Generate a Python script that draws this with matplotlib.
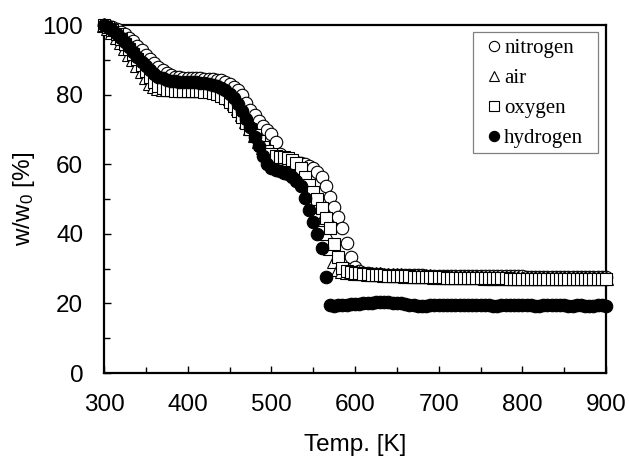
import numpy as np
import matplotlib
matplotlib.use("Agg")
import matplotlib.pyplot as plt
from matplotlib.ticker import MultipleLocator
from matplotlib.patches import Rectangle

# ---------------- data ----------------
temp = np.arange(300, 901, 5)

nitrogen = [
    100.0, 99.8, 99.4, 98.8, 98.1, 97.3, 96.4, 95.3, 94.1, 92.8,
    91.5, 90.2, 89.0, 87.9, 87.0, 86.2, 85.6, 85.2, 85.0, 84.9,
    84.8, 84.8, 84.7, 84.7, 84.6, 84.5, 84.4, 84.3, 84.1, 83.7,
    83.1, 82.3, 81.2, 79.8, 77.6, 75.6, 74.0, 72.5, 71.1, 69.9,
    68.8, 66.5, 62.8, 61.9, 61.4, 61.0, 60.7, 60.4, 60.0, 59.5,
    58.8, 57.9, 56.3, 53.6, 50.6, 47.8, 44.9, 41.6, 37.4, 33.2,
    30.4, 29.3, 28.8, 28.6, 28.5, 28.4, 28.4, 28.3, 28.3, 28.3,
    28.2, 28.2, 28.2, 28.1, 28.1, 28.1, 28.1, 28.0, 28.0, 28.0,
    28.0, 28.0, 27.9, 27.9, 27.9, 27.9, 27.9, 27.9, 27.9, 27.8,
    27.8, 27.8, 27.8, 27.8, 27.8, 27.8, 27.8, 27.8, 27.8, 27.8,
    27.8, 27.7, 27.7, 27.7, 27.7, 27.7, 27.7, 27.7, 27.7, 27.7,
    27.7, 27.7, 27.7, 27.7, 27.7, 27.7, 27.7, 27.7, 27.7, 27.7,
    27.7,
]

air = [
    100.0, 99.2, 98.0, 96.6, 95.0, 93.4, 91.8, 90.2, 88.6, 86.8,
    85.0, 83.4, 82.4, 81.9, 81.7, 81.6, 81.5, 81.5, 81.5, 81.4,
    81.4, 81.4, 81.4, 81.3, 81.3, 81.2, 81.1, 80.9, 80.5, 79.8,
    78.9, 77.6, 76.1, 74.4, 72.5, 70.5, 68.5, 66.6, 64.9, 63.5,
    62.6, 62.3, 62.1, 61.9, 61.6, 61.1, 60.3, 59.1, 57.3, 54.6,
    51.5, 48.0, 44.2, 40.2, 36.0, 32.2, 29.9, 29.3, 29.1, 28.9,
    28.8, 28.7, 28.6, 28.5, 28.4, 28.4, 28.4, 28.3, 28.2, 28.2,
    28.1, 28.1, 28.0, 28.0, 27.9, 27.9, 27.8, 27.8, 27.8, 27.7,
    27.7, 27.7, 27.6, 27.6, 27.6, 27.6, 27.5, 27.5, 27.5, 27.5,
    27.5, 27.4, 27.4, 27.4, 27.4, 27.4, 27.4, 27.3, 27.3, 27.3,
    27.3, 27.3, 27.3, 27.3, 27.3, 27.2, 27.2, 27.2, 27.2, 27.2,
    27.2, 27.2, 27.2, 27.2, 27.2, 27.2, 27.2, 27.2, 27.2, 27.2,
    27.2,
]

oxygen = [
    100.0, 99.4, 98.5, 97.3, 96.0, 94.6, 93.2, 91.7, 90.1, 88.5,
    86.8, 85.1, 83.6, 82.5, 81.8, 81.4, 81.2, 81.1, 81.1, 81.0,
    81.0, 81.0, 80.9, 80.9, 80.8, 80.7, 80.5, 80.2, 79.7, 79.0,
    78.0, 76.7, 75.2, 73.6, 71.9, 70.1, 68.3, 66.6, 65.0, 63.7,
    62.8, 62.4, 62.2, 62.0, 61.7, 61.2, 60.3, 58.9, 56.4, 54.0,
    52.0, 50.1, 47.4, 44.6, 41.6, 37.1, 33.3, 30.3, 29.4, 29.0,
    28.8, 28.6, 28.5, 28.4, 28.3, 28.2, 28.2, 28.1, 28.0, 28.0,
    27.9, 27.9, 27.8, 27.8, 27.7, 27.7, 27.6, 27.6, 27.6, 27.5,
    27.5, 27.5, 27.4, 27.4, 27.4, 27.4, 27.3, 27.3, 27.3, 27.3,
    27.3, 27.2, 27.2, 27.2, 27.2, 27.2, 27.2, 27.1, 27.1, 27.1,
    27.1, 27.1, 27.1, 27.1, 27.1, 27.0, 27.0, 27.0, 27.0, 27.0,
    27.0, 27.0, 27.0, 27.0, 27.0, 27.0, 27.0, 27.0, 27.0, 27.0,
    27.0,
]

hydrogen = [
    100.0, 99.5, 98.6, 97.5, 96.3, 95.0, 93.7, 92.3, 90.9, 89.5,
    88.2, 87.0, 86.0, 85.2, 84.7, 84.3, 84.0, 83.8, 83.7, 83.6,
    83.6, 83.5, 83.5, 83.4, 83.3, 83.1, 82.8, 82.4, 81.9, 81.2,
    80.2, 78.9, 77.3, 75.4, 73.1, 70.6, 67.9, 65.1, 62.4, 60.2,
    59.0, 58.4, 58.0, 57.6, 57.1, 56.4, 55.3, 53.6, 50.2, 46.8,
    43.3, 40.0, 36.0, 27.5, 19.5, 19.3, 19.4, 19.5, 19.6, 19.7,
    19.8, 19.9, 20.0, 20.1, 20.2, 20.3, 20.4, 20.4, 20.3, 20.2,
    20.1, 20.0, 19.8, 19.6, 19.4, 19.3, 19.2, 19.3, 19.4, 19.5,
    19.6, 19.6, 19.5, 19.5, 19.4, 19.4, 19.5, 19.5, 19.6, 19.6,
    19.5, 19.4, 19.4, 19.3, 19.3, 19.4, 19.5, 19.5, 19.4, 19.4,
    19.5, 19.5, 19.4, 19.3, 19.3, 19.4, 19.4, 19.5, 19.5, 19.4,
    19.4, 19.3, 19.3, 19.4, 19.4, 19.3, 19.3, 19.3, 19.4, 19.4,
    19.3,
]

series_labels = ["nitrogen", "air", "oxygen", "hydrogen"]
x_ticks = [300, 400, 500, 600, 700, 800, 900]
y_ticks = [0, 20, 40, 60, 80, 100]

# ---------------- style ----------------
plt.rcParams["font.family"] = ["Liberation Sans", "DejaVu Sans"]
plt.rcParams["mathtext.fontset"] = "custom"
plt.rcParams["mathtext.rm"] = "Liberation Sans"
plt.rcParams["mathtext.it"] = "Liberation Sans"
plt.rcParams["mathtext.default"] = "regular"

fig = plt.figure(figsize=(6.29, 4.59), dpi=100)
ax = fig.add_axes([104 / 629, 1 - 373 / 459, 502 / 629, 348 / 459])

ms = 9.0
mew = 0.8
common = dict(linestyle="none", mec="black", mew=mew, clip_on=False)
h_n, = ax.plot(temp, nitrogen, marker="o", ms=ms, mfc="white",
               label=series_labels[0], **common)
h_a, = ax.plot(temp, air, marker="^", ms=ms + 0.5, mfc="white",
               label=series_labels[1], **common)
h_o, = ax.plot(temp, oxygen, marker="s", ms=ms - 0.8, mfc="white",
               label=series_labels[2], **common)
h_h, = ax.plot(temp, hydrogen, marker="o", ms=ms, mfc="black",
               label=series_labels[3], **common)

ax.set_xlim(300, 900)
ax.set_ylim(0, 100)
ax.set_xticks(x_ticks)
ax.set_yticks(y_ticks)
ax.xaxis.set_minor_locator(MultipleLocator(50))
ax.yaxis.set_minor_locator(MultipleLocator(10))
ax.tick_params(which="both", direction="in", top=False, right=False,
               width=1.0, labelsize=17.5, pad=15)
ax.tick_params(which="major", length=5)
ax.tick_params(which="minor", length=4.5)
for sp in ax.spines.values():
    sp.set_linewidth(1.6)
    sp.set_zorder(1.5)

ax.set_xlabel("Temp. [K]", fontsize=17.5, labelpad=13)
ax.set_ylabel("w/w$_0$ [%]", fontsize=17.5, labelpad=4)

# legend frame (drawn as a box) and frameless legend inside it
fx0, fx1 = (473 - 104) / 502, (598 - 104) / 502
fy1, fy0 = (373 - 32) / 348, (373 - 153) / 348
ax.add_patch(Rectangle((fx0, fy0), fx1 - fx0, fy1 - fy0,
                       transform=ax.transAxes, facecolor="white",
                       edgecolor="#808080", linewidth=0.9, zorder=4,
                       clip_on=False))
leg = ax.legend(handles=[h_n, h_a, h_o, h_h], loc="upper left",
                bbox_to_anchor=(fx0, fy1), borderaxespad=0,
                frameon=False,
                prop={"family": "Liberation Serif", "size": 15},
                handlelength=1.37, handletextpad=-0.17, borderpad=0.3,
                labelspacing=0.5, markerscale=0.82)
leg.set_zorder(5)

fig.savefig("out.png", dpi=100)
